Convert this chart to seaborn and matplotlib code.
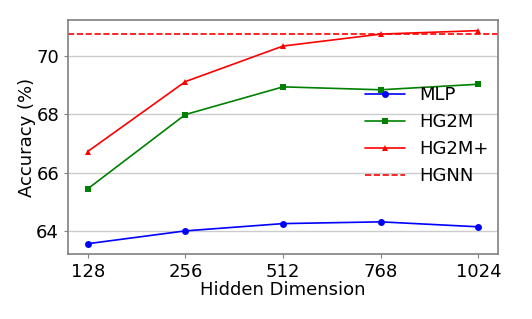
import pandas as pd
import matplotlib
matplotlib.use("Agg")
import matplotlib.pyplot as plt
import seaborn as sns

# Data
dims = ["128", "256", "512", "768", "1024"]
mlp = [63.56, 64.00, 64.25, 64.31, 64.14]
hg2m = [65.44, 67.99, 68.94, 68.84, 69.03]
hg2m_plus = [66.72, 69.12, 70.34, 70.75, 70.87]
hgnn = 70.77

sns.set_style("whitegrid")
plt.rcParams["font.family"] = ["DejaVu Sans"]
plt.rcParams["text.color"] = "black"
plt.rcParams["axes.labelcolor"] = "black"

fig, ax = plt.subplots(figsize=(5.32, 3.19), dpi=100)

sns.lineplot(x=dims, y=mlp, marker="o", markersize=5, color="blue",
             lw=1.2, markeredgewidth=0, label="MLP", ax=ax)
sns.lineplot(x=dims, y=hg2m, marker="s", markersize=5, color="green",
             lw=1.2, markeredgewidth=0, label="HG2M", ax=ax)
sns.lineplot(x=dims, y=hg2m_plus, marker="^", markersize=5, color="red",
             lw=1.2, markeredgewidth=0, label="HG2M+", ax=ax)
ax.axhline(hgnn, color="red", ls="--", lw=1.2, label="HGNN")

ax.set_xlim(-0.2, 4.2)
ax.set_ylim(63.21, 71.23)
ax.set_yticks([64, 66, 68, 70])
ax.grid(axis="x", visible=False)
ax.grid(axis="y", color="#cccccc", lw=1)
for s in ax.spines.values():
    s.set_color("#808080")
    s.set_linewidth(1.2)

ax.tick_params(labelsize=13, length=3, color="#808080", labelcolor="black",
               left=True, bottom=True)
ax.set_xlabel("Hidden Dimension", fontsize=13, labelpad=0)
ax.set_ylabel("Accuracy (%)", fontsize=13, labelpad=0)

ax.legend(loc="upper left", bbox_to_anchor=(0.653, 0.787), frameon=False,
          fontsize=13, handlelength=2.2, labelspacing=0.5)

fig.subplots_adjust(left=0.128, right=0.936, top=0.937, bottom=0.204)
fig.savefig("out.png", dpi=100)
